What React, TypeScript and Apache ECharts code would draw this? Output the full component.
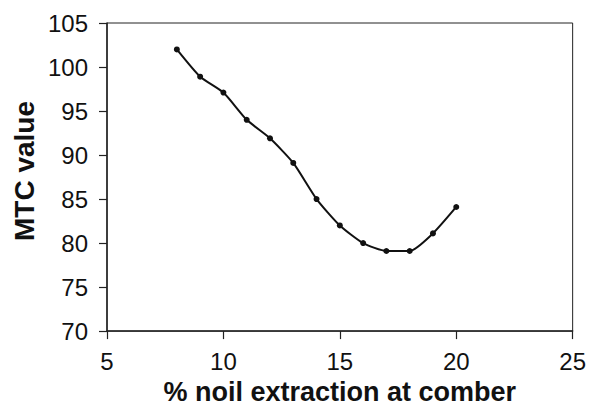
import React, { useEffect, useRef } from "react";
import * as echarts from "echarts";

const xValues = [8, 9, 10, 11, 12, 13, 14, 15, 16, 17, 18, 19, 20];
const mtcValues = [102, 98.9, 97.1, 94, 91.9, 89.1, 85, 82, 80, 79.1, 79.1, 81.1, 84.1];
const xTitle = "% noil extraction at comber";
const yTitle = "MTC value";

export default function App() {
  const ref = useRef<HTMLDivElement>(null);
  useEffect(() => {
    if (!ref.current) return;
    const chart = echarts.init(ref.current, null, { renderer: "svg" });
    const font = "Liberation Sans, Arial, sans-serif";
    chart.setOption({
      animation: false,
      backgroundColor: "#fff",
      grid: {
        left: 107,
        top: 23,
        right: 16,
        bottom: 73,
        show: true,
        borderColor: "#222",
        borderWidth: 1,
        backgroundColor: "transparent",
      },
      xAxis: {
        type: "value",
        min: 5,
        max: 25,
        interval: 5,
        name: xTitle,
        nameLocation: "middle",
        nameGap: 46,
        nameTextStyle: { fontFamily: font, fontSize: 27, fontWeight: "bold", color: "#111" },
        axisLine: { show: true, onZero: false, lineStyle: { color: "#222", width: 1.5 } },
        axisTick: { show: true, length: 8, lineStyle: { color: "#222", width: 1.2 } },
        axisLabel: { margin: 18, fontFamily: font, fontSize: 24, color: "#111" },
        splitLine: { show: false },
      },
      yAxis: {
        type: "value",
        min: 70,
        max: 105,
        interval: 5,
        axisLine: { show: true, onZero: false, lineStyle: { color: "#222", width: 1.5 } },
        axisTick: { show: true, length: 8, lineStyle: { color: "#222", width: 1.2 } },
        axisLabel: { margin: 19, fontFamily: font, fontSize: 24, color: "#111" },
        splitLine: { show: false },
      },
      graphic: [
        {
          type: "text",
          x: 24,
          y: 171,
          rotation: Math.PI / 2,
          style: {
            text: yTitle,
            fontFamily: font,
            fontSize: 28,
            fontWeight: "bold",
            fill: "#111",
            textAlign: "center",
            textVerticalAlign: "middle",
          },
        },
      ],
      series: [
        {
          type: "line",
          data: xValues.map((x, i) => [x, mtcValues[i]]),
          smooth: 0.2,
          symbol: "circle",
          symbolSize: 6,
          lineStyle: { color: "#111", width: 2 },
          itemStyle: { color: "#111" },
        },
      ],
    });
    return () => chart.dispose();
  }, []);
  return (
    <div
      ref={ref}
      style={{ position: "fixed", left: 0, top: 0, width: 589, height: 410, background: "#fff" }}
    />
  );
}
